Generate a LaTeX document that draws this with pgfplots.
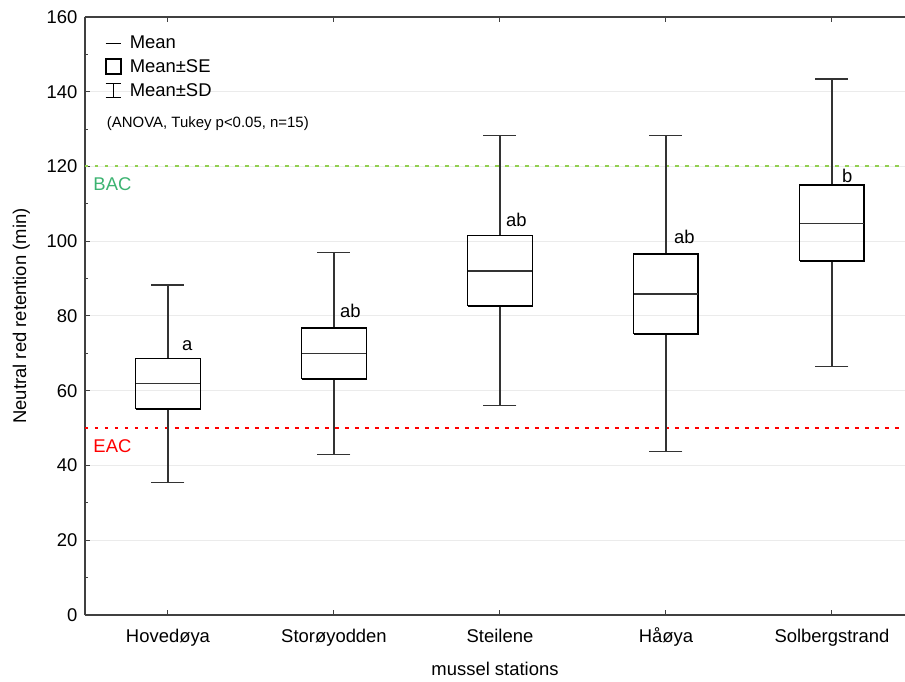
\documentclass[border=0pt]{standalone}
\usepackage{fontspec}
\setmainfont{Liberation Sans}
\usepackage{pgfplots}
\usepackage{pgfplotstable}
\pgfplotsset{compat=1.18}
\definecolor{bacline}{HTML}{92D050}
\definecolor{bactext}{HTML}{3CB371}
\definecolor{axisgray}{HTML}{404040}
\definecolor{gridgray}{HTML}{EBEBEB}
\definecolor{whiskgray}{HTML}{333333}
\newcommand\fsz{\fontsize{18.5}{22}\selectfont}
% station: mean, mean-SE, mean+SE, mean-SD, mean+SD
\pgfplotstableread{
x mean selo sehi sdlo sdhi
0 62.0 55.1 68.6 35.4 88.3
1 69.9 63.1 76.8 42.9 96.9
2 92.0 82.7 101.5 56.0 128.2
3 85.9 75.2 96.6 43.8 128.2
4 104.8 94.7 115.0 66.4 143.4
}\stats
\begin{document}
\begin{tikzpicture}
\begin{axis}[
  name=ax,
  scale only axis, width=820bp, height=598bp,
  xmin=-0.5, xmax=4.44, ymin=0, ymax=160,
  axis x line=box, axis y line=left,
  axis line style={-, axisgray, line width=1.2bp},
  x axis line style={-}, y axis line style={-},
  tick align=inside, major tick length=5bp, minor tick length=3bp,
  tick style={axisgray, line width=1bp},
  xtick={0,1,2,3,4},
  xticklabels={Hovedøya,Storøyodden,Steilene,Håøya,Solbergstrand},
  ytick={0,20,...,160}, minor y tick num=1,
  ymajorgrids, grid style={gridgray, line width=1bp},
  tick label style={font=\fsz},
  xticklabel style={text height=0.95em, text depth=0.22em, yshift=-15bp},
  yticklabel style={xshift=-4bp},
  label style={font=\fsz},
  xlabel shift=10bp, ylabel shift=10bp,
  /pgf/number format/assume math mode=true,
  xlabel={mussel stations}, ylabel={Neutral red retention (min)},
  legend style={at={(0.02,0.975)}, anchor=north west, draw=none, fill=none,
    font=\fsz, row sep=5.5bp},
  legend cell align=left,
]
\addlegendimage{legend image code/.code={\draw[black, line width=1.2bp] (0bp,0bp) -- (15bp,0bp); \path (22bp,0bp);}}
\addlegendentry{Mean}
\addlegendimage{legend image code/.code={\draw[black, line width=2bp] (0bp,-7.5bp) rectangle (15bp,7.5bp); \path (22bp,0bp);}}
\addlegendentry{Mean±SE}
\addlegendimage{legend image code/.code={\draw[black, line width=1.1bp] (0bp,-7bp) -- (15bp,-7bp) (7.5bp,-7bp) -- (7.5bp,7bp) (0bp,7bp) -- (15bp,7bp); \path (22bp,0bp);}}
\addlegendentry{Mean±SD}

% reference lines
\addplot[bacline, line width=2bp, dash pattern=on 3.5bp off 6.5bp] coordinates {(-0.5,120) (4.44,120)};
\addplot[red, line width=2bp, dash pattern=on 3.5bp off 6.5bp] coordinates {(-0.5,50) (4.44,50)};

% whiskers (Mean±SD)
\addplot[draw=none, mark=none, forget plot,
  error bars/.cd, y dir=plus, y explicit, error mark=|,
  error bar style={draw=whiskgray, line width=1.1bp},
  error mark options={draw=whiskgray, line width=1.1bp, mark size=16.5bp}]
  table[x=x, y=sehi, y error expr=\thisrow{sdhi}-\thisrow{sehi}] {\stats};
\addplot[draw=none, mark=none, forget plot,
  error bars/.cd, y dir=minus, y explicit, error mark=|,
  error bar style={draw=whiskgray, line width=1.1bp},
  error mark options={draw=whiskgray, line width=1.1bp, mark size=16.5bp}]
  table[x=x, y=selo, y error expr=\thisrow{selo}-\thisrow{sdlo}] {\stats};

% boxes (Mean±SE), half width 0.195
\addplot[black, line width=1.7bp, line join=miter, forget plot] coordinates {(-0.195,55.1) (0.195,55.1) (0.195,68.6) (-0.195,68.6) (-0.195,55.1)};
\addplot[black, line width=1.7bp, line join=miter, forget plot] coordinates {(0.805,63.1) (1.195,63.1) (1.195,76.8) (0.805,76.8) (0.805,63.1)};
\addplot[black, line width=1.7bp, line join=miter, forget plot] coordinates {(1.805,82.7) (2.195,82.7) (2.195,101.5) (1.805,101.5) (1.805,82.7)};
\addplot[black, line width=1.7bp, line join=miter, forget plot] coordinates {(2.805,75.2) (3.195,75.2) (3.195,96.6) (2.805,96.6) (2.805,75.2)};
\addplot[black, line width=1.7bp, line join=miter, forget plot] coordinates {(3.805,94.7) (4.195,94.7) (4.195,115.0) (3.805,115.0) (3.805,94.7)};

% means
\addplot[only marks, mark=-, mark size=32bp, mark options={draw=whiskgray, line width=1.3bp}, forget plot]
  table[x=x, y=mean] {\stats};

\node[bactext, anchor=west, inner sep=0pt, font=\fsz] at (axis cs:-0.45,115.4) {BAC};
\node[red, anchor=west, inner sep=0pt, font=\fsz] at (axis cs:-0.45,45.3) {EAC};

\node[anchor=base west, inner sep=0pt, font=\fsz] at (axis cs:0.084,70.9) {a};
\node[anchor=base west, inner sep=0pt, font=\fsz] at (axis cs:1.036,79.5) {ab};
\node[anchor=base west, inner sep=0pt, font=\fsz] at (axis cs:2.036,103.9) {ab};
\node[anchor=base west, inner sep=0pt, font=\fsz] at (axis cs:3.048,99.3) {ab};
\node[anchor=base west, inner sep=0pt, font=\fsz] at (axis cs:4.06,115.6) {b};

\node[anchor=west, inner sep=0pt, font=\fontsize{15}{18}\selectfont] at (rel axis cs:0.0265,0.822) {(ANOVA, Tukey p<0.05, n=15)};
\end{axis}
\pgfresetboundingbox
\path ([xshift=-85bp,yshift=-67bp]ax.south west) rectangle ([yshift=17bp]ax.north east);
\end{tikzpicture}
\end{document}
